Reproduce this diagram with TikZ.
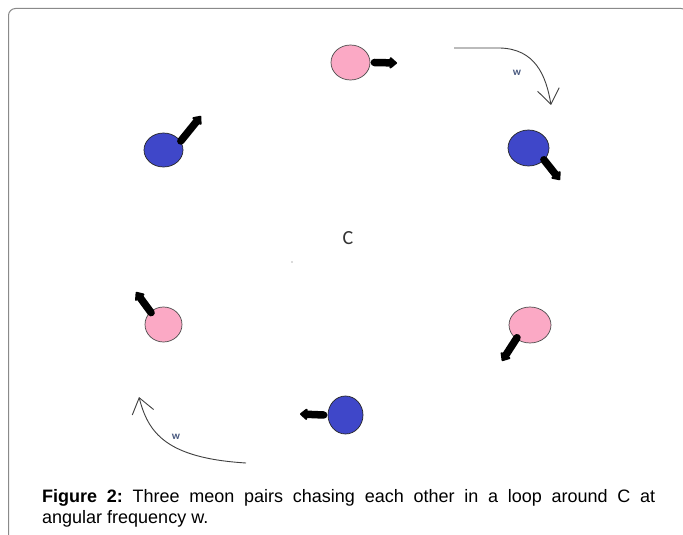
\documentclass[tikz,border=0pt]{standalone}
\usepackage{fontspec}
\setmainfont{Liberation Sans}
\newfontfamily\cfont{Carlito}
\usetikzlibrary{shapes.geometric,arrows.meta}
\definecolor{pinkfill}{HTML}{FBA9C5}
\definecolor{bluefill}{HTML}{3F47C9}
\definecolor{framec}{HTML}{8A8A8A}
\definecolor{curvec}{HTML}{404040}
\definecolor{wcol}{HTML}{4A5A80}
\tikzset{
  pinkb/.style={ellipse, draw=black!70, line width=0.7bp, fill=pinkfill, inner sep=0pt},
  blueb/.style={ellipse, draw=black!85, line width=0.7bp, fill=bluefill, inner sep=0pt},
  thickarr/.style={line width=7.5bp, line cap=round, -{Triangle[round,length=8bp,width=13bp]}},
  curvearr/.style={draw=curvec, line width=0.9bp, -{Straight Barb[length=15bp,width=22bp,line width=0.9bp]}},
  wlabel/.style={font=\cfont\bfseries\fontsize{11bp}{13bp}\selectfont, text=wcol, inner sep=0pt},
}
\begin{document}
\frenchspacing
\begin{tikzpicture}[x=1bp,y=-1bp]
\useasboundingbox (0,0) rectangle (683,535);
\fill[white] (0,0) rectangle (683,535);
% frame
\draw[framec, line width=1bp, rounded corners=7bp] (8.5,545) -- (8.5,8.5) -- (688,8.5) -- (688,545);

% mesons
\node[pinkb, minimum width=39bp, minimum height=35bp] (p1) at (350.5,62.5) {};
\node[blueb, minimum width=41bp, minimum height=36bp] (b1) at (528.5,148) {};
\node[blueb, minimum width=39bp, minimum height=34bp] (b2) at (163.5,150) {};
\node[pinkb, minimum width=42bp, minimum height=36bp] (p2) at (530,325) {};
\node[pinkb, minimum width=37bp, minimum height=35bp] (p3) at (163.5,324.5) {};
\node[blueb, minimum width=35bp, minimum height=38bp] (b3) at (345.5,415) {};

% arrow tips
\coordinate (t1) at (397,63);
\coordinate (t2) at (560,180);
\coordinate (t3) at (201,116);
\coordinate (t4) at (502,361);
\coordinate (t5) at (136,292);
\coordinate (t6) at (300,414);

\draw[thickarr] ([xshift=4bp]p1.east) -- (t1);
\draw[thickarr] ([shift={(3bp,3bp)}]b1.-50) -- (t2);
\draw[thickarr] ([shift={(3bp,-3bp)}]b2.40) -- (t3);
\draw[thickarr] ([shift={(-2bp,3bp)}]p2.-125) -- (t4);
\draw[thickarr] ([shift={(-2bp,-3bp)}]p3.125) -- (t5);
\draw[thickarr] ([xshift=-4bp]b3.180) -- (t6);

% curved arrows
\coordinate (s1) at (454,48);
\coordinate (e1) at (551,105);
\draw[curvearr] (s1) -- (500,48) .. controls (535,49) and (546,75) .. (e1);
\node[wlabel] (w1) at (517,73) {w};

\coordinate (s2) at (246,463);
\coordinate (e2) at (139,397);
\draw[curvearr] (s2) .. controls (165,458) and (148,432) .. (e2);
\node[wlabel] (w2) at (176,437) {w};

% centre
\node[font=\cfont\fontsize{20bp}{24bp}\selectfont, text=black!80, inner sep=0pt] (C) at (348,238) {C};
\fill[black!60] (292,262) circle (0.7bp);

% caption
\node[anchor=base west, inner sep=0pt, font=\fontsize{18bp}{21bp}\selectfont] (cap1) at (42,502.5)
  {\makebox[613bp][s]{\textbf{Figure 2:} Three meon pairs chasing each other in a loop around C at}};
\node[anchor=base west, inner sep=0pt, font=\fontsize{18bp}{21bp}\selectfont] (cap2) at (42,523.5)
  {angular frequency w.};
\end{tikzpicture}
\end{document}
